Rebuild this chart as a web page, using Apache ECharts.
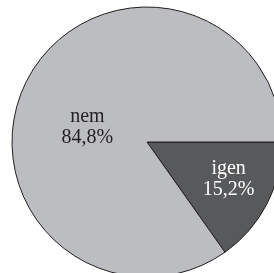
<!DOCTYPE html>
<html>
<head>
<meta charset="utf-8">
<script src="https://cdn.jsdelivr.net/npm/echarts@6/dist/echarts.min.js"></script>
<style>
  html, body { margin: 0; padding: 0; background: #fff; }
  #chart { width: 274px; height: 273px; }
</style>
</head>
<body>
<div id="chart"></div>
<script>
const categories = ['igen', 'nem']
const values = [15.2, 84.8]
const colors = ['#58595b', '#bcbdc0']
const textColors = ['#ffffff', '#231f20']
// nudges for the inside labels (dx, dy)
const labelShift = [[19, 5], [3, 18]]

const chart = echarts.init(document.getElementById('chart'))
chart.setOption({
  animation: false,
  series: [{
    type: 'pie',
    center: [147, 142],
    radius: 135,
    startAngle: 0,
    clockwise: true,
    silent: true,
    data: categories.map((name, i) => ({
      name: name,
      value: values[i],
      itemStyle: { color: colors[i] },
      label: { color: textColors[i] }
    })),
    itemStyle: { borderColor: '#231f20', borderWidth: 1 },
    label: {
      position: 'inside',
      fontFamily: 'Liberation Serif',
      fontSize: 20,
      lineHeight: 21,
      formatter: p => p.name + '\n' + p.value.toFixed(1).replace('.', ',') + '%'
    },
    labelLayout: p => ({ dx: labelShift[p.dataIndex][0], dy: labelShift[p.dataIndex][1] }),
    labelLine: { show: false }
  }]
})
</script>
</body>
</html>
